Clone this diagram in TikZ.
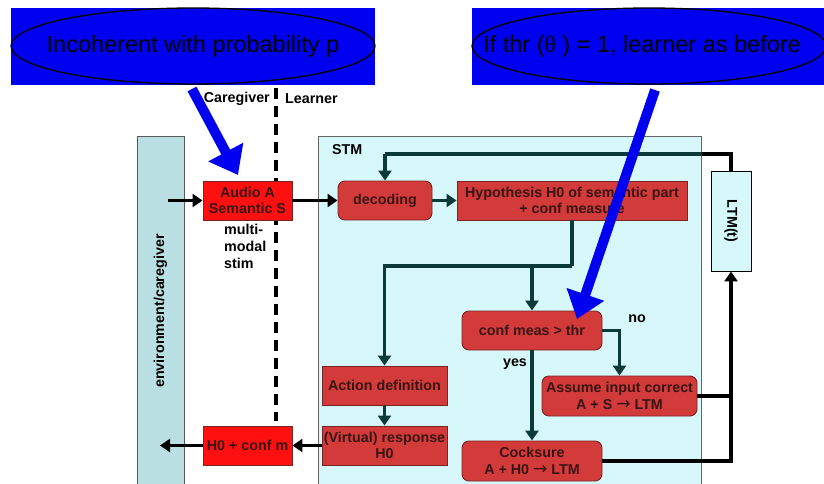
\documentclass[tikz,border=0pt]{standalone}
\usepackage{fontspec}
\setmainfont{Liberation Sans}
\newfontfamily\serifsym{Liberation Serif}
\newfontfamily\arrowfont{DejaVu Sans}
\usetikzlibrary{arrows.meta,calc}
\definecolor{boxred}{HTML}{D33A3A}
\definecolor{boxborder}{HTML}{7A2424}
\definecolor{brightred}{HTML}{FF1010}
\definecolor{txt}{HTML}{3A1414}
\definecolor{stmbg}{HTML}{D6F8FA}
\definecolor{envbg}{HTML}{BADFE3}
\definecolor{conncol}{HTML}{0C3A38}
\definecolor{bluef}{HTML}{0000F0}
\newcommand{\rarr}{{\arrowfont\mdseries\fontsize{17}{14}\selectfont →}}
\begin{document}
\begin{tikzpicture}[x=1pt,y=-1pt,
  redbox/.style={draw=boxborder,line width=0.9pt,fill=boxred,text=txt,font=\bfseries\fontsize{14.3}{16.5}\selectfont,align=center,inner sep=1pt},
  rbox/.style={redbox,rounded corners=7pt},
  brbox/.style={redbox,fill=brightred,draw=boxborder},
  conn/.style={draw=conncol,line width=3.4pt,-{Triangle[length=10pt,width=13pt]}},
  line/.style={draw=conncol,line width=3.4pt},
  bconn/.style={draw=black,line width=3.2pt,-{Triangle[length=10pt,width=13pt]}},
  bline/.style={draw=black,line width=3.2pt},
  lab/.style={font=\bfseries\fontsize{14.3}{16.5}\selectfont,text=black,inner sep=0pt},
  bigarrow/.style={draw=bluef,line width=10pt,-{Triangle[length=26pt,width=38pt]}}
]
\useasboundingbox (0,0) rectangle (824,484);
% backgrounds
\fill[envbg,draw=gray!70!black,line width=0.6pt] (137,136) rectangle (184,490);
\fill[stmbg,draw=gray!80!black,line width=0.6pt] (318,136) rectangle (701,490);
\node[rotate=90,font=\bfseries\fontsize{14.3}{16}\selectfont,inner sep=0pt] (env) at (160.5,311) {environment/caregiver};
\node[font=\bfseries\fontsize{14.3}{16}\selectfont,anchor=west,inner sep=0pt] (stm) at (332,150) {STM};
% dashed separator
\draw[black,line width=3.4pt,dash pattern=on 11pt off 7pt] (276,88) -- (276,421);
\node[lab,anchor=east] (cg) at (270,99) {Caregiver};
\node[lab,anchor=west] (ln) at (285,99) {Learner};
% nodes
\node[brbox,minimum width=89pt,minimum height=39pt] (audio) at (247.5,200.5) {Audio A\\Semantic S};
\node[lab,align=left,anchor=north west,font=\bfseries\fontsize{14.3}{17}\selectfont] (mm) at (224,224) {multi-\\modal\\stim};
\node[rbox,minimum width=94pt,minimum height=39pt] (dec) at (385,200.5) {decoding};
\node[redbox,minimum width=230pt,minimum height=39pt] (hyp) at (572,200.5) {Hypothesis H0 of semantic part\\+ conf measure};
\node[draw=black,line width=0.9pt,fill=stmbg,minimum width=40pt,minimum height=100pt] (ltm) at (731,221) {};
\node[rotate=-90,font=\bfseries\fontsize{14.3}{16}\selectfont,inner sep=0pt] (ltmt) at (731,221) {LTM(t)};
\node[rbox,minimum width=140pt,minimum height=39pt] (conf) at (532,330.5) {conf meas > thr};
\node[rbox,minimum width=155pt,minimum height=40pt] (assume) at (619.5,396) {Assume input correct\\A + S \rarr{} LTM};
\node[rbox,minimum width=140pt,minimum height=40pt] (cock) at (532,461) {Cocksure\\A + H0 \rarr{} LTM};
\node[redbox,minimum width=125pt,minimum height=39pt] (act) at (384.5,385.5) {Action definition};
\node[redbox,minimum width=125pt,minimum height=39pt] (virt) at (384.5,445.5) {(Virtual) response\\H0};
\node[brbox,minimum width=89pt,minimum height=39pt] (h0c) at (247.5,445.5) {H0 + conf m};
\node[lab] (no) at (637,319) {no};
\node[lab] (yes) at (515,364) {yes};
% connectors
\coordinate (envin) at (168,200.5);
\coordinate (envout) at (160,445.5);
\coordinate (loop) at (385,154);
\coordinate (j) at (572,266);
\draw[bconn] (envin) -- (audio.west);
\draw[bconn] (audio.east) -- (dec.west);
\draw[conn] (dec.east) -- (hyp.west);
\draw[bline] (ltm.north) |- (702,154);
\draw[line] (702,154) -- (loop);
\draw[conn] (loop) -- (dec.north);
\draw[line] (hyp.south) -- (j);
\draw[conn] (j) -| (act.north);
\draw[conn] (conf.north |- j) -- (conf.north);
\draw[conn] (conf.east) -| (assume.north);
\draw[conn] (conf.south) -- (cock.north);
\draw[conn] (act.south) -- (virt.north);
\draw[bconn] (virt.west) -- (h0c.east);
\draw[bconn] (h0c.west) -- (envout);
\draw[bline] (assume.east) -- (assume.east -| ltm.south);
\draw[bconn] (cock.east) -| (ltm.south);
% callouts
\fill[bluef] (11,8) rectangle (375,85);
\fill[bluef] (472,8) rectangle (824,85);
\draw[black,line width=1.3pt] (193,46) ellipse [x radius=182,y radius=38];
\draw[black,line width=1.3pt] (649,46) ellipse [x radius=177,y radius=38];
\node[font=\fontsize{23.5}{28}\selectfont,text=black] (c1) at (193,46) {Incoherent with probability p};
\node[font=\fontsize{23.5}{28}\selectfont,text=black] (c2) at (642,46) {If thr ({\serifsym θ} ) = 1, learner as before};
\coordinate (a1s) at (192,89);
\coordinate (a1e) at (238,175);
\coordinate (a2s) at (655,90);
\coordinate (a2e) at (577,319);
\draw[bigarrow] (a1s) -- (a1e);
\draw[bigarrow] (a2s) -- (a2e);
\end{tikzpicture}
\end{document}
